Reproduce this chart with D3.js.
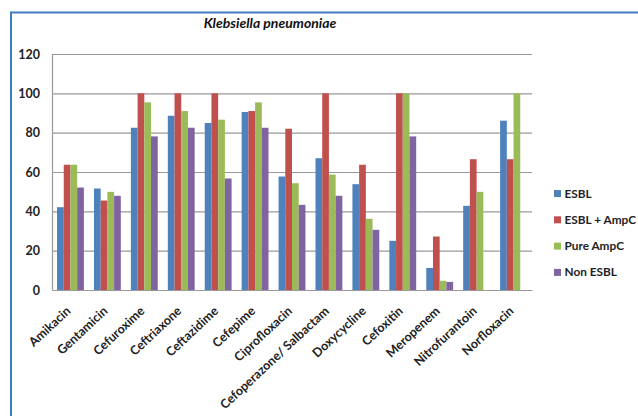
<!DOCTYPE html>
<html><head><meta charset="utf-8">
<script src="https://cdn.jsdelivr.net/npm/d3@7"></script>
<style>body{margin:0;background:#fff}svg{display:block}</style>
</head><body>
<script>
const categories = ["Amikacin","Gentamicin","Cefuroxime","Ceftriaxone","Ceftazidime","Cefepime","Ciprofloxacin","Cefoperazone/ Salbactam","Doxycycline","Cefoxitin","Meropenem","Nitrofurantoin","Norfloxacin"];
const seriesNames = ["ESBL","ESBL + AmpC","Pure AmpC","Non ESBL"];
const esbl      = [42.1, 51.6, 82.5, 88.6, 84.9, 90.5, 57.7, 67.0, 53.8, 25.0, 11.2, 42.8, 86.1];
const esblAmpC  = [63.7, 45.5, 100, 100, 100, 91.0, 82.0, 100, 63.7, 100, 27.2, 66.5, 66.5];
const pureAmpC  = [63.7, 49.9, 95.4, 91.0, 86.6, 95.4, 54.3, 58.7, 36.2, 100, 4.7, 49.9, 100];
const nonEsbl   = [52.1, 47.9, 78.1, 82.5, 56.7, 82.5, 43.3, 47.9, 30.6, 78.1, 4.1, 0, 0];
const yTicks = [0, 20, 40, 60, 80, 100, 120];
const colors = ["#4F81BD","#C0504D","#9BBB59","#8064A2"];
const title = "Klebsiella pneumoniae";

const allSeries = [esbl, esblAmpC, pureAmpC, nonEsbl];
const W = 638, H = 416;
const font = "Lato, 'Open Sans', sans-serif";
const svg = d3.select("body").append("svg").attr("width", W).attr("height", H);

// outer frame
svg.append("rect").attr("x", 11).attr("y", 12.5).attr("width", 700).attr("height", 500)
  .attr("fill", "none").attr("stroke", "#3F7CC2").attr("stroke-width", 2);

const m = {l: 52, r: 532, t: 54, b: 290};
const x = d3.scaleBand().domain(categories).range([m.l, m.r]).paddingInner(0).paddingOuter(0);
const y = d3.scaleLinear().domain([0, 120]).range([m.b, m.t]);
const groupW = x.bandwidth() * 4 / 5.5;
const xs = d3.scaleBand().domain(d3.range(4)).range([0, groupW]);

// gridlines
svg.append("g").selectAll("line").data(yTicks.filter(d => d > 0)).join("line")
  .attr("x1", m.l).attr("x2", m.r).attr("y1", d => y(d) + 0.5).attr("y2", d => y(d) + 0.5)
  .attr("stroke", "#999").attr("stroke-width", 1.2);

// y axis
const yAxis = svg.append("g").attr("transform", `translate(${m.l},0)`)
  .call(d3.axisLeft(y).tickValues(yTicks).tickSize(0).tickPadding(12));
yAxis.select(".domain").attr("stroke", "#999").attr("stroke-width", 1.2);
yAxis.selectAll("text").attr("font-family", font).attr("font-weight", "bold")
  .attr("font-size", 12.5).attr("fill", "#222");

// bars
const g = svg.append("g");
allSeries.forEach((vals, si) => {
  g.append("g").selectAll("rect").data(vals).join("rect")
    .attr("x", (d, i) => x(categories[i]) + (x.bandwidth() - groupW) / 2 + xs(si))
    .attr("width", xs.bandwidth())
    .attr("y", d => y(d))
    .attr("height", d => y(0) - y(d))
    .attr("fill", colors[si]);
});

// x axis
const xAxis = svg.append("g").attr("transform", `translate(0,${m.b})`)
  .call(d3.axisBottom(x).tickSize(0).tickPadding(0));
xAxis.select(".domain").attr("stroke", "#999").attr("stroke-width", 1.2);
xAxis.selectAll("text").attr("font-family", font).attr("font-weight", "bold")
  .attr("font-size", 12.5).attr("fill", "#222")
  .attr("text-anchor", "end").attr("dy", 0)
  .attr("transform", "translate(1,22) rotate(-43)")
  .attr("x", 0).attr("y", 0);

// legend
const leg = svg.append("g").attr("transform", "translate(554,190)");
seriesNames.forEach((n, i) => {
  const row = leg.append("g").attr("transform", `translate(0,${i * 26.3})`);
  row.append("rect").attr("width", 7).attr("height", 7).attr("fill", colors[i]);
  row.append("text").attr("x", 10.5).attr("y", 7.5).attr("font-family", font)
    .attr("font-weight", "bold").attr("font-size", 11.8).attr("fill", "#222").text(n);
});

// title
svg.append("text").attr("x", 270).attr("y", 28).attr("text-anchor", "middle")
  .attr("font-family", font).attr("font-style", "italic").attr("font-weight", "bold")
  .attr("font-size", 14).attr("fill", "#111").text(title);
</script>
</body></html>
